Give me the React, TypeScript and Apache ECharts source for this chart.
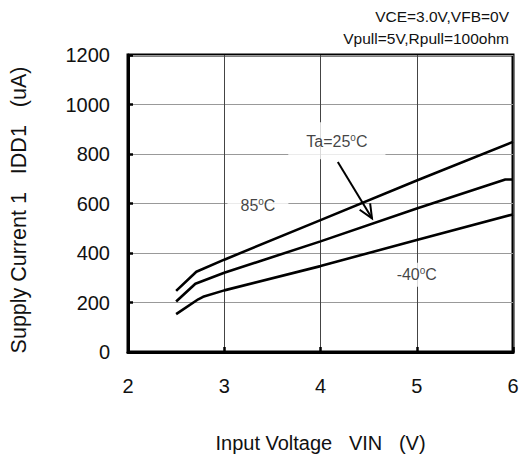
import React, { useEffect, useRef } from 'react';
import * as echarts from 'echarts';

const vin85 = [2.5, 2.71, 3, 4, 5, 6];
const idd85 = [247, 324, 373, 533, 693, 849];
const vin25 = [2.5, 2.7, 3, 4, 5, 5.92, 6];
const idd25 = [204, 276, 320, 447, 580, 697, 697];
const vinM40 = [2.5, 2.73, 2.78, 3, 4, 5, 6];
const iddM40 = [153, 213, 223, 249, 347, 453, 556];

const xMin = 2, xMax = 6, xStep = 1;
const yMin = 0, yMax = 1200, yStep = 200;

const annX = [4.17, 3.35, 5.0];
const annY = [854, 590, 312];
const annPrefix = ['Ta=25', '85', '-40'];
const arrowFrom = [4.18, 768];
const arrowTo = [4.535, 540];
const conditions = ['VCE=3.0V,VFB=0V', 'Vpull=5V,Rpull=100ohm'];
const xTitle = 'Input Voltage   VIN   (V)';
const yTitle = 'Supply Current 1   IDD1   (uA)';

const FONT = '"Liberation Sans", Arial, sans-serif';
const TXT = '#111';

const zip = (a: number[], b: number[]) => a.map((v, i) => [v, b[i]]);

export default function App() {
  const ref = useRef<HTMLDivElement>(null);
  useEffect(() => {
    document.body.style.margin = '0';
    const chart = echarts.init(ref.current!, null, { renderer: 'svg' });
    const lineSeries = (data: number[][]) => ({
      type: 'line',
      data,
      symbol: 'none',
      smooth: false,
      lineStyle: { color: '#000', width: 2.6 },
      z: 3,
    });
    const pads = [
      [10, 18, 9, 18],
      [4, 13, 4, 13],
      [3, 4, 3, 4],
    ];
    chart.setOption({
      animation: false,
      backgroundColor: '#fff',
      textStyle: { fontFamily: FONT },
      grid: {
        left: 128, right: 9, top: 55, bottom: 103,
        show: true, borderColor: '#000', borderWidth: 3, backgroundColor: 'transparent',
      },
      xAxis: {
        type: 'value', min: xMin, max: xMax, interval: xStep,
        axisLine: { lineStyle: { color: '#000', width: 3 } },
        axisTick: { inside: true, length: 5, lineStyle: { color: '#000', width: 2.5 } },
        splitLine: { show: true, lineStyle: { color: '#444', width: 1 } },
        axisLabel: { fontSize: 20, color: TXT, margin: 24, fontFamily: FONT, formatter: (v: number) => String(v) },
        name: xTitle, nameLocation: 'middle', nameGap: 81,
        nameTextStyle: { fontSize: 20, color: TXT, fontFamily: FONT },
      },
      yAxis: {
        type: 'value', min: yMin, max: yMax, interval: yStep,
        axisLine: { lineStyle: { color: '#000', width: 3 } },
        axisTick: { inside: true, length: 5, lineStyle: { color: '#000', width: 2.5 } },
        splitLine: { show: true, lineStyle: { color: '#999', width: 1 } },
        axisLabel: { fontSize: 20, color: TXT, margin: 18, fontFamily: FONT, formatter: (v: number) => String(v) },
      },
      graphic: [
        {
          type: 'text', x: 19, y: 210, rotation: Math.PI / 2,
          style: { text: yTitle, fontSize: 21.5, fill: TXT, align: 'center', verticalAlign: 'middle', fontFamily: FONT },
        },
        ...conditions.map((t, i) => ({
          type: 'text', x: 509, y: 16 + i * 22.5,
          style: { text: t, fontSize: 15.5, fill: TXT, align: 'right', verticalAlign: 'middle', fontFamily: FONT },
        })),
      ],
      series: [
        lineSeries(zip(vin85, idd85)),
        lineSeries(zip(vin25, idd25)),
        lineSeries(zip(vinM40, iddM40)),
        {
          type: 'scatter',
          symbolSize: 0,
          z: 4,
          itemStyle: { color: '#000' },
          data: annX.map((x, i) => ({
            value: [x, annY[i]],
            label: {
              show: true, position: 'inside',
              color: TXT,
              formatter: `{n|${annPrefix[i]}}{s|o}{n|C}`,
              backgroundColor: '#fff',
              padding: pads[i],
              rich: {
                n: { fontSize: 16, color: TXT, fontFamily: FONT, lineHeight: 18 },
                s: { fontSize: 10, color: TXT, fontFamily: FONT, verticalAlign: 'top', lineHeight: 18, padding: [0, 0, 6, 0] },
              },
            },
          })),
        },
        {
          type: 'custom',
          z: 5,
          encode: { x: [0, 2], y: [1, 3] },
          data: [[arrowFrom[0], arrowFrom[1], arrowTo[0], arrowTo[1]]],
          renderItem: (params: any, api: any) => {
            const p0 = api.coord([api.value(0), api.value(1)]);
            const p1 = api.coord([api.value(2), api.value(3)]);
            const ang = Math.atan2(p1[1] - p0[1], p1[0] - p0[0]);
            const L = 15, a = 0.42;
            const h1 = [p1[0] - L * Math.cos(ang - a), p1[1] - L * Math.sin(ang - a)];
            const h2 = [p1[0] - L * Math.cos(ang + a), p1[1] - L * Math.sin(ang + a)];
            return {
              type: 'group',
              children: [
                { type: 'line', shape: { x1: p0[0], y1: p0[1], x2: p1[0], y2: p1[1] }, style: { stroke: '#000', lineWidth: 2 } },
                { type: 'polyline', shape: { points: [h1, p1, h2] }, style: { stroke: '#000', lineWidth: 2, fill: null } },
              ],
            };
          },
        },
      ],
    });
    return () => chart.dispose();
  }, []);
  return <div ref={ref} style={{ width: 522, height: 458 }} />;
}
